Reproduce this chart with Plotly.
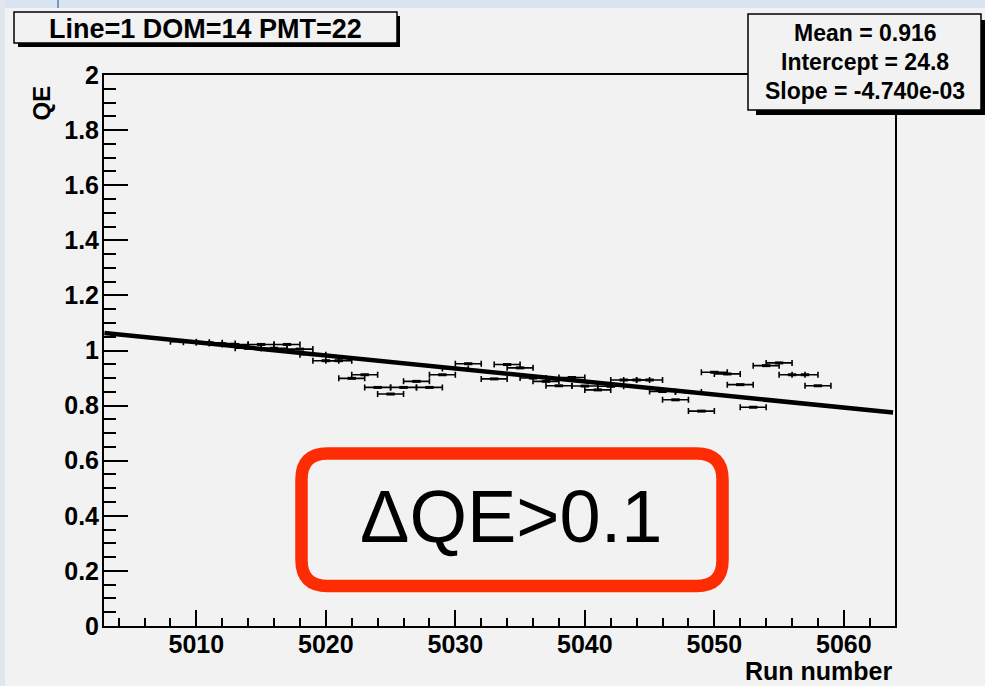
import plotly.graph_objects as go

# ---------------- data ----------------
runs = [5009, 5010, 5011, 5012, 5013, 5014, 5015, 5016, 5017, 5018,
        5019, 5020, 5021, 5022, 5023, 5024, 5025, 5026, 5027, 5028,
        5029, 5030, 5031, 5033, 5034, 5035, 5036, 5037, 5038, 5039,
        5040, 5041, 5042, 5043, 5044, 5045, 5046, 5047, 5048, 5049,
        5050, 5051, 5052, 5053, 5054, 5055, 5056, 5057, 5058]
qe = [1.032, 1.030, 1.028, 1.025, 1.022, 1.008, 1.022, 1.008, 1.022, 1.005,
      0.985, 0.963, 0.963, 0.899, 0.912, 0.866, 0.842, 0.866, 0.888, 0.866,
      0.912, 0.935, 0.952, 0.897, 0.949, 0.937, 0.900, 0.888, 0.872, 0.902,
      0.871, 0.857, 0.870, 0.893, 0.893, 0.893, 0.851, 0.821, 0.849, 0.780,
      0.921, 0.915, 0.876, 0.794, 0.945, 0.955, 0.912, 0.912, 0.872]
run_half_width = 1.0

fit_intercept = 24.777
fit_slope = -4.740e-3
fit_range = [5002.9, 5063.8]
stat_mean = 0.916
stat_intercept_shown = 24.8

x_range = [5002.87, 5063.95]
y_range = [0, 2]

title_text = "Line=1 DOM=14 PMT=22"
label_text = "ΔQE>0.1"

# ---------------- layout helpers ----------------
W, H = 985, 686
ML, MR, MT, MB = 104, 90, 75, 60
PW, PH = W - ML - MR, H - MT - MB


def xp(px):
    return (px - ML) / PW


def yp(py):
    return (H - MB - py) / PH


BOLD = dict(family="Liberation Sans, Arial, sans-serif", color="black", weight="bold")

fig = go.Figure()

# fit line
fit_y = [fit_intercept + fit_slope * x for x in fit_range]
fig.add_trace(go.Scatter(x=fit_range, y=fit_y, mode="lines",
                         line=dict(color="black", width=4.5), hoverinfo="skip"))

# data points with horizontal error bars
fig.add_trace(go.Scatter(
    x=runs, y=qe, mode="markers",
    marker=dict(symbol="line-ew", size=6, color="black",
                line=dict(color="black", width=3)),
    error_x=dict(type="constant", value=run_half_width, color="black",
                 thickness=1.6, width=3),
))

shapes = []
# slide background strips
shapes.append(dict(type="rect", xref="paper", yref="paper", layer="below",
                   x0=xp(0), x1=xp(W), y0=yp(8), y1=yp(0),
                   fillcolor="#d9e4f1", line=dict(width=0)))
shapes.append(dict(type="rect", xref="paper", yref="paper", layer="below",
                   x0=xp(0), x1=xp(5), y0=yp(H), y1=yp(0),
                   fillcolor="#e2e7ee", line=dict(width=0)))
shapes.append(dict(type="line", xref="paper", yref="paper", layer="below",
                   x0=xp(58), x1=xp(58), y0=yp(8), y1=yp(0),
                   line=dict(color="#5a7fb8", width=1.5)))

# title box with shadow
shapes.append(dict(type="rect", xref="paper", yref="paper", layer="above",
                   x0=xp(18), x1=xp(400), y0=yp(47), y1=yp(16),
                   fillcolor="black", line=dict(width=0)))
shapes.append(dict(type="rect", xref="paper", yref="paper", layer="above",
                   x0=xp(14), x1=xp(397), y0=yp(43), y1=yp(12),
                   fillcolor="#f2f2f2", line=dict(color="black", width=1.5)))

# stats box with shadow
shapes.append(dict(type="rect", xref="paper", yref="paper", layer="above",
                   x0=xp(756), x1=xp(986), y0=yp(115), y1=yp(20),
                   fillcolor="black", line=dict(width=0)))
shapes.append(dict(type="rect", xref="paper", yref="paper", layer="above",
                   x0=xp(748), x1=xp(981), y0=yp(110), y1=yp(14),
                   fillcolor="#f2f2f2", line=dict(color="black", width=1.5)))


# red rounded rectangle
def rounded_path(x0, y0, x1, y1, r):
    pts = [
        ("M", (x0 + r, y0)), ("L", (x1 - r, y0)), ("Q", (x1, y0), (x1, y0 + r)),
        ("L", (x1, y1 - r)), ("Q", (x1, y1), (x1 - r, y1)),
        ("L", (x0 + r, y1)), ("Q", (x0, y1), (x0, y1 - r)),
        ("L", (x0, y0 + r)), ("Q", (x0, y0), (x0 + r, y0)),
    ]
    s = ""
    for item in pts:
        cmd = item[0]
        coords = " ".join(f"{xp(a):.5f},{yp(b):.5f}" for a, b in item[1:])
        s += f"{cmd}{coords} "
    return s + "Z"


shapes.append(dict(type="path", xref="paper", yref="paper", layer="above",
                   path=rounded_path(301.5, 453.5, 722.5, 586, 26),
                   line=dict(color="#fe2c02", width=12.5)))

annotations = [
    dict(text=title_text, x=xp(205), y=yp(29), xref="paper", yref="paper",
         showarrow=False, font=dict(size=27, **BOLD), xanchor="center", yanchor="middle"),
    dict(text=f"Mean = {stat_mean:.3f}", x=xp(865), y=yp(33), xref="paper", yref="paper",
         showarrow=False, font=dict(size=23, **BOLD), xanchor="center", yanchor="middle"),
    dict(text=f"Intercept = {stat_intercept_shown:.1f}", x=xp(865), y=yp(62), xref="paper",
         yref="paper", showarrow=False, font=dict(size=23, **BOLD),
         xanchor="center", yanchor="middle"),
    dict(text=f"Slope = {fit_slope:.3e}", x=xp(865), y=yp(91),
         xref="paper", yref="paper", showarrow=False, font=dict(size=23, **BOLD),
         xanchor="center", yanchor="middle"),
    dict(text="QE", x=xp(41), y=yp(84), xref="paper", yref="paper", textangle=-90,
         showarrow=False, font=dict(size=24, **BOLD), xanchor="center", yanchor="top"),
    dict(text="Run number", x=xp(894), y=yp(671), xref="paper", yref="paper",
         showarrow=False, font=dict(size=25, **BOLD), xanchor="right", yanchor="middle"),
    dict(text=label_text, x=xp(511), y=yp(516), xref="paper", yref="paper",
         showarrow=False, font=dict(size=74, family="Liberation Sans, Arial, sans-serif",
                                    color="black"),
         xanchor="center", yanchor="middle"),
]

fig.update_layout(
    width=W, height=H,
    margin=dict(l=ML, r=MR, t=MT, b=MB, pad=0),
    paper_bgcolor="#f2f2f2", plot_bgcolor="#f2f2f2",
    showlegend=False,
    shapes=shapes, annotations=annotations,
    xaxis=dict(range=x_range, tick0=5010, dtick=10, ticks="inside", ticklen=16,
               tickwidth=1.5, tickcolor="black", showline=True, linewidth=2,
               linecolor="black", mirror=True, showgrid=False, zeroline=False,
               tickfont=dict(size=25, **BOLD), ticklabelstandoff=-5,
               minor=dict(tick0=5010, dtick=2, ticks="inside", ticklen=8,
                          tickwidth=1.5, tickcolor="black", showgrid=False)),
    yaxis=dict(range=y_range, tick0=0, dtick=0.2, ticks="inside", ticklen=24,
               tickwidth=1.5, tickcolor="black", showline=True, linewidth=2,
               linecolor="black", mirror=True, showgrid=False, zeroline=False,
               tickfont=dict(size=25, **BOLD), ticklabelstandoff=-2,
               minor=dict(tick0=0, dtick=0.05, ticks="inside", ticklen=12,
                          tickwidth=1.5, tickcolor="black", showgrid=False)),
)

fig.write_html("out.html")
